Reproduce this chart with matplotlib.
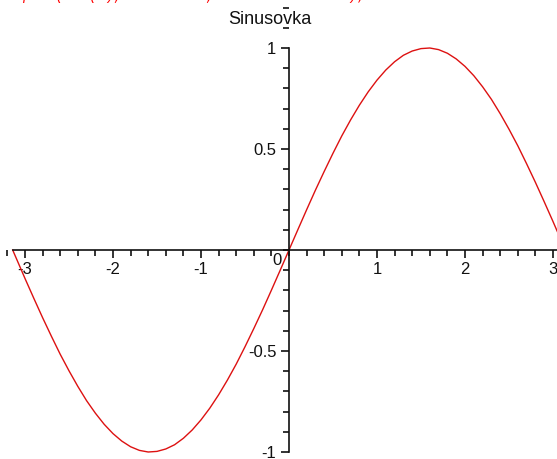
import matplotlib
matplotlib.use("Agg")
import matplotlib.pyplot as plt
from matplotlib.ticker import MultipleLocator, FixedLocator

# sin(x) na intervalu <-pi, pi>, krok 0.1
xs = [-3.14, -3.0, -2.9, -2.8, -2.7, -2.6, -2.5, -2.4, -2.3, -2.2, -2.1, -2.0,
      -1.9, -1.8, -1.7, -1.6, -1.5, -1.4, -1.3, -1.2, -1.1, -1.0, -0.9, -0.8,
      -0.7, -0.6, -0.5, -0.4, -0.3, -0.2, -0.1, 0.0, 0.1, 0.2, 0.3, 0.4, 0.5,
      0.6, 0.7, 0.8, 0.9, 1.0, 1.1, 1.2, 1.3, 1.4, 1.5, 1.6, 1.7, 1.8, 1.9,
      2.0, 2.1, 2.2, 2.3, 2.4, 2.5, 2.6, 2.7, 2.8, 2.9, 3.0, 3.14]
ys = [0.0, -0.141, -0.239, -0.335, -0.427, -0.516, -0.598, -0.675, -0.746,
      -0.808, -0.863, -0.909, -0.946, -0.974, -0.992, -1.0, -0.997, -0.985,
      -0.964, -0.932, -0.891, -0.841, -0.783, -0.717, -0.644, -0.565, -0.479,
      -0.389, -0.296, -0.199, -0.1, 0.0, 0.1, 0.199, 0.296, 0.389, 0.479,
      0.565, 0.644, 0.717, 0.783, 0.841, 0.891, 0.932, 0.964, 0.985, 0.997,
      1.0, 0.992, 0.974, 0.946, 0.909, 0.863, 0.808, 0.746, 0.675, 0.598,
      0.516, 0.427, 0.335, 0.239, 0.141, 0.0]

xticks = [-3, -2, -1, 1, 2, 3]
yticks = [-1, -0.5, 0.5, 1]
ytick_labels = ["-1", "-0.5", "0.5", "1"]
title = "Sinusovka"
command = "plot(sin(x), x=-Pi..Pi, title=Sinusovka);"

plt.rcParams["font.family"] = ["Liberation Sans", "DejaVu Sans"]
plt.rcParams["axes.unicode_minus"] = False

fig = plt.figure(figsize=(5.57, 4.59), dpi=100)
ax = fig.add_axes([0, 0, 1, 1])

ax.plot(xs, ys, color="#dd1111", lw=1.0)

ax.set_xlim(-289 / 88, (557 - 289) / 88)
ax.set_ylim(-(459 - 250) / 202, 250 / 202)

for side in ["top", "right"]:
    ax.spines[side].set_visible(False)
ax.spines["left"].set_position(("data", 0))
ax.spines["bottom"].set_position(("data", 0))
ax.spines["bottom"].set_bounds(xs[0], xs[-1])
ax.spines["left"].set_bounds(-1, 1)
for side in ["left", "bottom"]:
    ax.spines[side].set_linewidth(1.2)
    ax.spines[side].set_color("#111111")

ax.xaxis.set_major_locator(FixedLocator(xticks))
ax.xaxis.set_minor_locator(MultipleLocator(0.2))
ax.yaxis.set_major_locator(FixedLocator(yticks))
ax.yaxis.set_minor_locator(MultipleLocator(0.1))
ax.set_yticklabels(ytick_labels)
ax.tick_params(which="major", length=6, width=1.2, labelsize=12, pad=3, colors="#111111")
ax.tick_params(which="minor", length=4, width=1.2, colors="#111111")

ax.text(-0.14, -0.05, "0", ha="center", va="center", fontsize=12, color="#111111")

fig.text(270 / 557, 1 - 20 / 459, title, ha="center", va="center", fontsize=13, color="#111111")

# vstupni prikaz (cervene, oriznuty hornim okrajem)
fig.text(22 / 557, 1 - 3 / 459, command, ha="left", va="bottom", fontsize=10,
         color="red", style="italic", family=["Liberation Mono", "DejaVu Sans Mono"])

fig.savefig("out.png", dpi=100)
